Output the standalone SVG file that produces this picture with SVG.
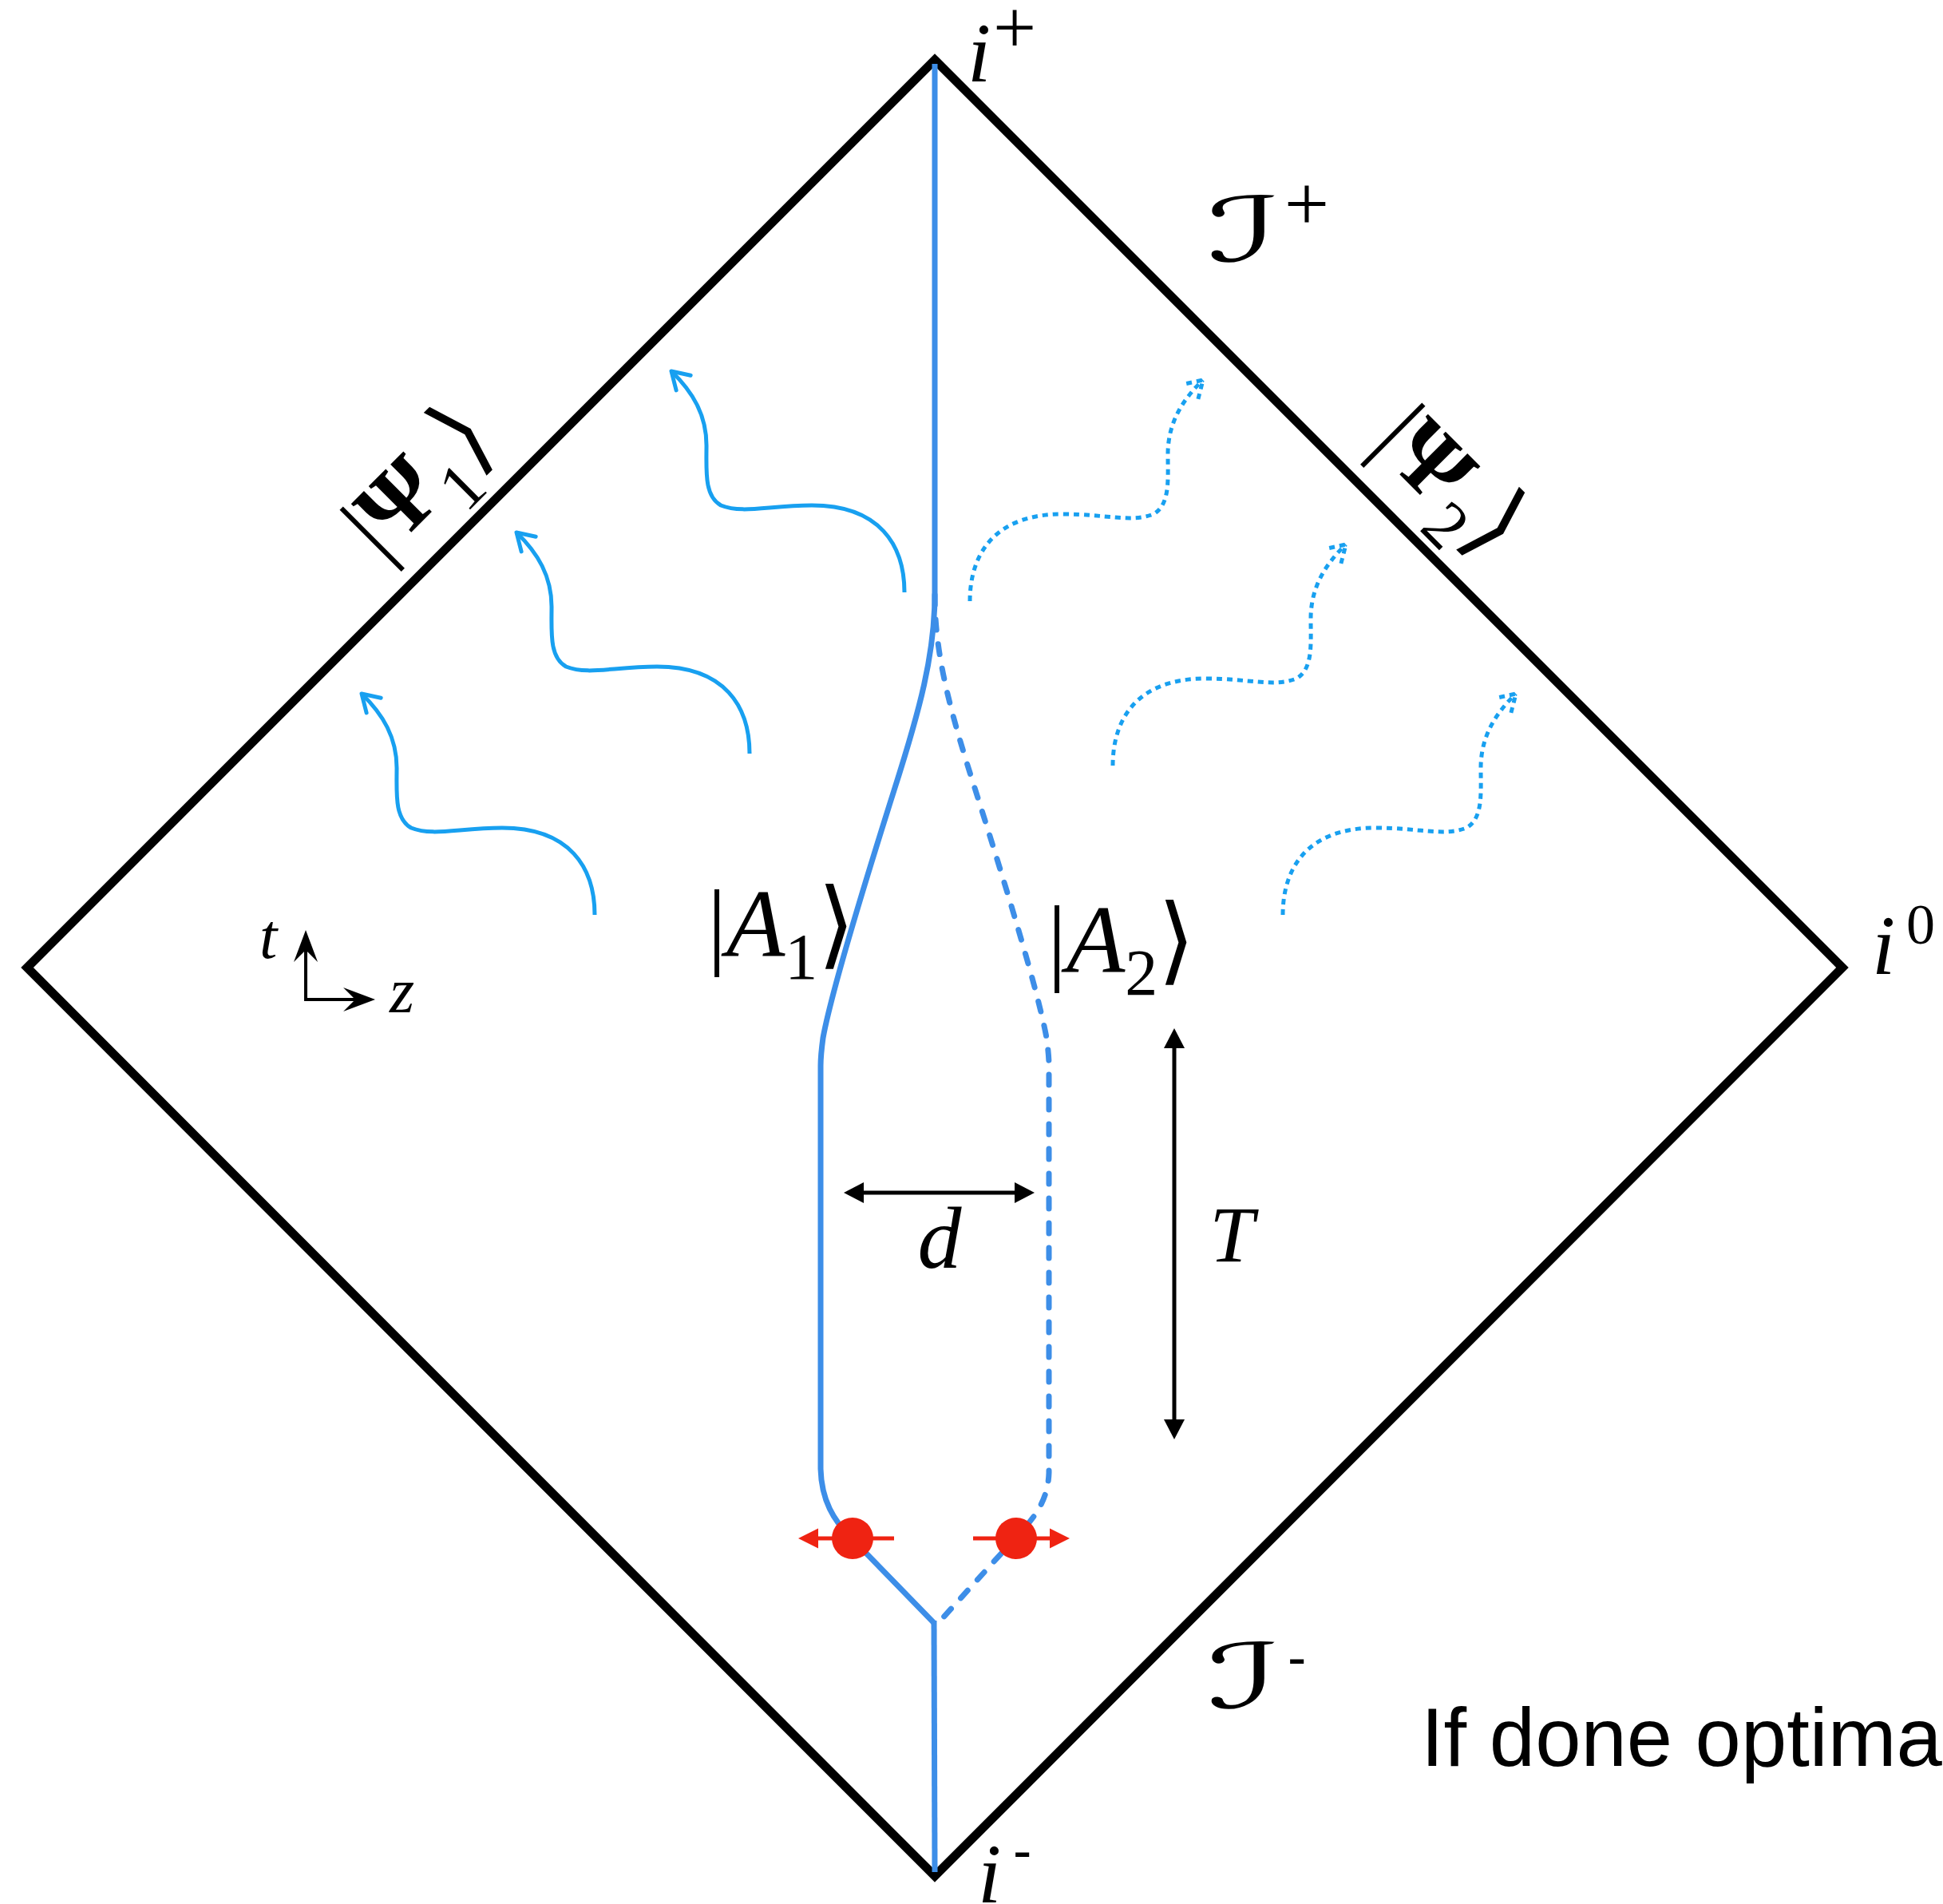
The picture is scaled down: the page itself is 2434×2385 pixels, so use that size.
<svg xmlns="http://www.w3.org/2000/svg" width="2434" height="2385" viewBox="0 0 2434 2385">
<style>
.frame{fill:none;stroke:#000;stroke-width:11;stroke-linejoin:miter}
.wl{fill:none;stroke:#3d8ee8;stroke-width:7}
.wld{fill:none;stroke:#3d8ee8;stroke-width:7;stroke-dasharray:13 18;stroke-linecap:round}
.wave{fill:none;stroke:#18a0f0;stroke-width:5;marker-end:url(#chev)}
.waved{fill:none;stroke:#18a0f0;stroke-width:5;stroke-dasharray:7 6;marker-end:url(#chevd)}
.blk{fill:none;stroke:#000;stroke-width:5;marker-start:url(#tri);marker-end:url(#tri)}
.axis{fill:none;stroke:#000;stroke-width:4;marker-start:url(#axh);marker-end:url(#axh)}
.red{fill:none;stroke:#ef2312;stroke-width:5;marker-end:url(#rtri)}
.dot{fill:#ef2312}
.math{font-family:"Liberation Serif","DejaVu Serif",serif;font-style:italic;fill:#000}
.rm{font-family:"Liberation Serif","DejaVu Serif",serif;font-style:normal;fill:#000}
.ang{font-family:"Noto Sans CJK JP","DejaVu Serif",serif;font-style:normal;font-weight:300}
.scr{font-family:"DejaVu Serif","DejaVu Sans",serif;font-style:italic;fill:#000}
.sans{font-family:"Liberation Sans",Arial,sans-serif;fill:#000}
</style>
<defs>
<marker id="chev" markerUnits="userSpaceOnUse" orient="auto" overflow="visible" markerWidth="1" markerHeight="1"><path d="M-21,-13 L0,0 L-21,13" fill="none" stroke="#18a0f0" stroke-width="5" stroke-linecap="round" stroke-linejoin="round"/></marker>
<marker id="chevd" markerUnits="userSpaceOnUse" orient="auto" overflow="visible" markerWidth="1" markerHeight="1"><path d="M-21,-13 L0,0 L-21,13" fill="none" stroke="#18a0f0" stroke-width="5" stroke-dasharray="7 6"/></marker>
<marker id="tri" markerUnits="userSpaceOnUse" orient="auto-start-reverse" overflow="visible" markerWidth="1" markerHeight="1"><path d="M10,0 L-15,-13 L-15,13 Z" fill="#000"/></marker>
<marker id="axh" markerUnits="userSpaceOnUse" orient="auto-start-reverse" overflow="visible" markerWidth="1" markerHeight="1"><path d="M10,0 L-30,-15 L-15,0 L-30,15 Z" fill="#000"/></marker>
<marker id="rtri" markerUnits="userSpaceOnUse" orient="auto" overflow="visible" markerWidth="1" markerHeight="1"><path d="M10,0 L-15,-12.5 L-15,12.5 Z" fill="#ef2312"/></marker>
<path id="wv" d="M745,1146 C745,1087 714,1037 629,1037 C574,1037 543,1048 515,1037 C494,1025 497,994 497,962 C497,924 480,895 453,869"/>
</defs>

<g id="frame">
<path class="frame" d="M1171,75 L2308,1212 L1171,2350 L34,1212 Z"/>
</g>

<g id="connectors">
<path class="wl" d="M1171,80 L1171,745"/>
<path class="wl" d="M1171,745 C1171,820 1152,890 1120,990 C1082,1110 1042,1240 1031,1300 C1029,1315 1028,1325 1028,1335 L1028,1840 C1029,1880 1045,1905 1065,1925 L1170,2033"/>
<path class="wl" d="M1170,2030 L1171,2345"/>
<path class="wld" d="M1171,745 C1171,820 1190,890 1222,990 C1260,1110 1300,1240 1311,1300 C1313,1315 1314,1325 1314,1335 L1314,1845 C1313,1875 1300,1895 1285,1912 L1178,2030"/>
<g id="waves-left">
<use href="#wv" class="wave"/>
<use href="#wv" class="wave" transform="translate(194,-202)"/>
<use href="#wv" class="wave" transform="translate(388,-404)"/>
</g>
<g id="waves-right">
<use href="#wv" class="waved" transform="translate(2352,0) scale(-1,1)"/>
<use href="#wv" class="waved" transform="translate(2139,-187) scale(-1,1)"/>
<use href="#wv" class="waved" transform="translate(1960,-393) scale(-1,1)"/>
</g>
<path class="blk" d="M1067,1494 L1286,1494"/>
<path class="blk" d="M1471,1298 L1471,1793"/>
<path class="axis" d="M383,1175 L383,1252 L460,1252"/>
</g>

<g id="particles">
<path class="red" d="M1120,1927 L1010,1927"/>
<path class="red" d="M1219,1927 L1330,1927"/>
<circle class="dot" cx="1068" cy="1927" r="26"/>
<circle class="dot" cx="1273" cy="1927" r="26"/>
</g>

<g id="labels">
<g id="i-plus"><text class="math" x="1212" y="102" font-size="105">i</text><text class="rm" x="1271" y="66" font-size="96" text-anchor="middle">+</text></g>
<g id="scri-plus"><text class="scr" transform="translate(1512,327) scale(1.75,1)" font-size="112">ℐ</text><text class="rm" x="1637" y="289" font-size="100" text-anchor="middle">+</text></g>
<g id="scri-minus"><text class="scr" transform="translate(1512,2139) scale(1.75,1)" font-size="112">ℐ</text><text class="sans" x="1613" y="2100" font-size="70">-</text></g>
<g id="i-zero"><text class="math" x="2345" y="1220" font-size="105">i</text><text class="rm" x="2406" y="1182" font-size="72" text-anchor="middle">0</text></g>
<g id="i-minus"><text class="math" x="1225" y="2383" font-size="105">i</text><text class="sans" x="1269" y="2342" font-size="70">-</text></g>
<g id="psi1"><text class="rm" transform="translate(478,704) rotate(-45)" font-size="120">|<tspan font-weight="bold">Ψ</tspan><tspan font-size="84" dy="32">1</tspan><tspan class="ang" font-size="125" dy="-32">⟩</tspan></text></g>
<g id="psi2"><text class="rm" transform="translate(1716,557) rotate(45)" font-size="120">|<tspan font-weight="bold">Ψ</tspan><tspan font-size="84" dy="32">2</tspan><tspan class="ang" font-size="125" dy="-32">⟩</tspan></text></g>
<g id="A1"><text class="math" x="886" y="1198" font-size="120"><tspan font-style="normal">|</tspan>A<tspan font-style="normal" font-size="82" dy="28">1</tspan><tspan class="ang" font-size="120" dy="-28">⟩</tspan></text></g>
<g id="A2"><text class="math" x="1312" y="1218" font-size="120"><tspan font-style="normal">|</tspan>A<tspan font-style="normal" font-size="82" dy="28">2</tspan><tspan class="ang" font-size="120" dy="-28">⟩</tspan></text></g>
<g id="d-label"><text class="math" x="1177" y="1588" font-size="110" text-anchor="middle">d</text></g>
<g id="T-label"><text class="math" x="1543" y="1580" font-size="100" text-anchor="middle">T</text></g>
<g id="t-label"><text class="math" x="325" y="1200" font-size="80">t</text></g>
<g id="z-label"><text class="math" x="488" y="1268" font-size="80">z</text></g>
<g id="caption"><text class="sans" x="1780" y="2212" font-size="103">If done optima</text></g>
</g>
</svg>
